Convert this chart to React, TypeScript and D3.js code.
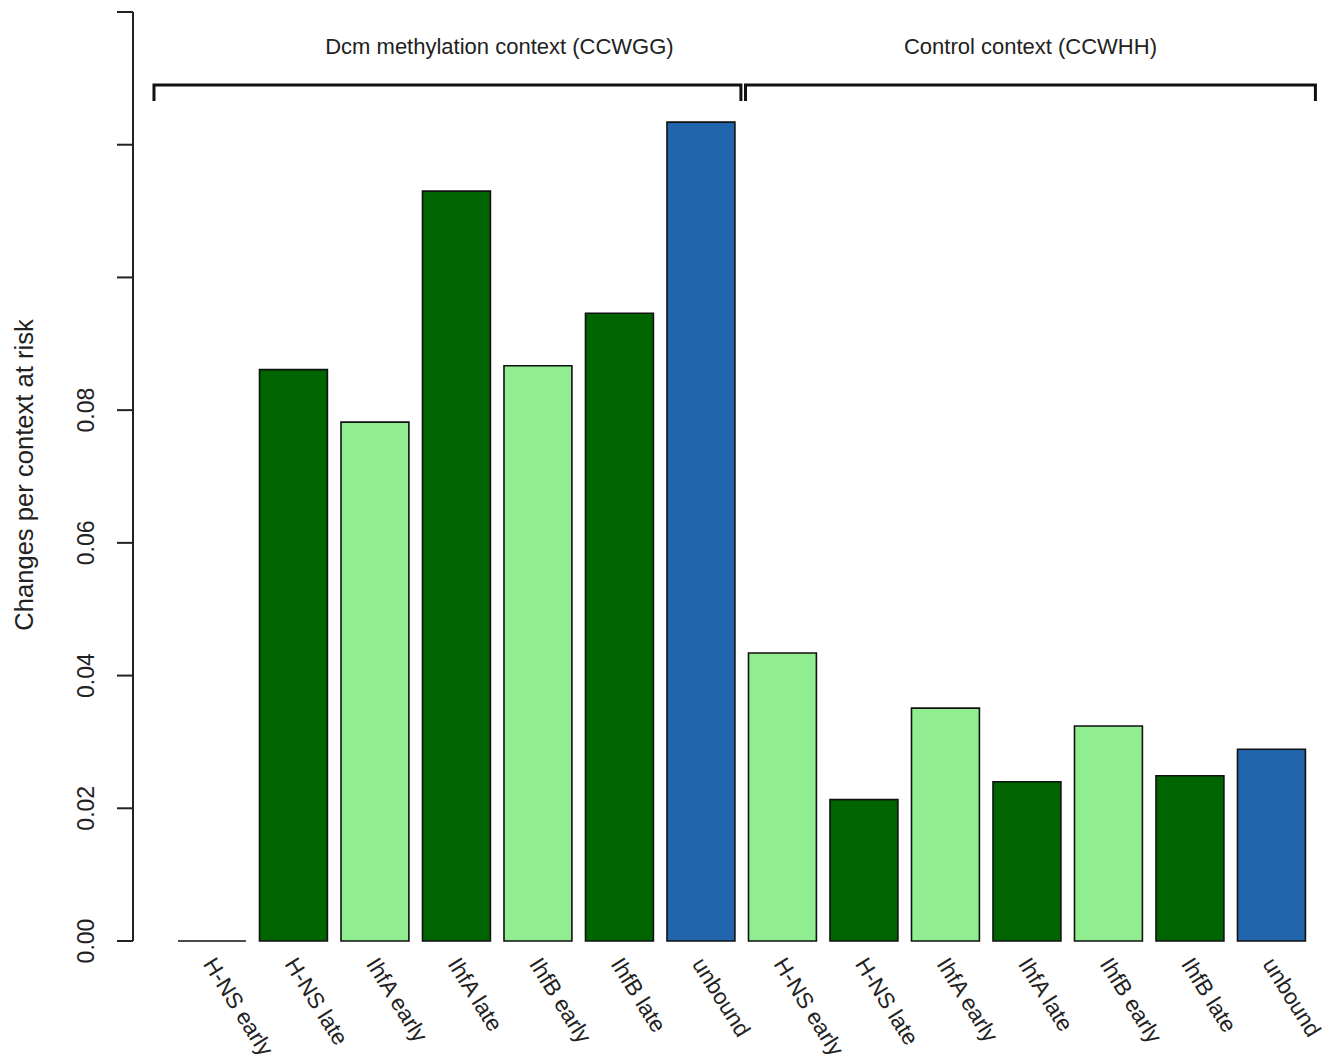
import React from "react";
import * as d3 from "d3";

const categories = ["H-NS early", "H-NS late", "IhfA early", "IhfA late", "IhfB early", "IhfB late", "unbound"];
const dcmValues = [0, 0.0861, 0.0782, 0.113, 0.0867, 0.0946, 0.1234];
const controlValues = [0.0434, 0.0213, 0.0351, 0.024, 0.0324, 0.0249, 0.0289];
const categoryColors = ["#90EE90", "#006400", "#90EE90", "#006400", "#90EE90", "#006400", "#2166AC"];
const groupLabels = ["Dcm methylation context (CCWGG)", "Control context (CCWHH)"];
const yTicks = [0, 0.02, 0.04, 0.06, 0.08, 0.1, 0.12, 0.14];
const yTickLabels = ["0.00", "0.02", "0.04", "0.06", "0.08", "", "", ""];
const yLabel = "Changes per context at risk";

const FONT = "'Liberation Sans', Arial, Helvetica, sans-serif";

export default function App() {
  const width = 1327;
  const height = 1055;
  const bars = [
    ...categories.map((c, i) => ({ id: "d" + i, label: c, value: dcmValues[i], color: categoryColors[i] })),
    ...categories.map((c, i) => ({ id: "c" + i, label: c, value: controlValues[i], color: categoryColors[i] })),
  ];
  const x = d3
    .scaleBand<string>()
    .domain(bars.map((b) => b.id))
    .range([171.2, 1312.2])
    .paddingInner(1 / 6)
    .paddingOuter(1 / 12);
  const y = d3.scaleLinear().domain([0, 0.14]).range([941, 12]);
  const bw = x.bandwidth();
  const axisX = 133;

  const barPath = (b: { id: string; value: number }) => {
    const x0 = x(b.id)!;
    const y0 = y(0);
    const y1 = y(b.value);
    const p = d3.path();
    p.moveTo(x0, y0);
    p.lineTo(x0, y1);
    p.lineTo(x0 + bw, y1);
    p.lineTo(x0 + bw, y0);
    p.closePath();
    return p.toString();
  };

  const bracketY = 85;
  const bracketDrop = 16;
  const brackets = [
    { x0: x("d0")! - 24, x1: x("d6")! + bw + 6, label: groupLabels[0], dx: 52 },
    { x0: x("c0")! - 3, x1: x("c6")! + bw + 10, label: groupLabels[1], dx: 0 },
  ];

  return (
    <svg width={width} height={height} style={{ position: "absolute", left: 0, top: 0, background: "#fff" }}>
      {/* y axis */}
      <line x1={axisX} x2={axisX} y1={y(0.14)} y2={y(0)} stroke="#222" strokeWidth={2} />
      {yTicks.map((t, i) => (
        <g key={i}>
          <line x1={axisX - 16} x2={axisX} y1={y(t)} y2={y(t)} stroke="#222" strokeWidth={2} />
          {yTickLabels[i] && (
            <text
              transform={`translate(${86},${y(t)}) rotate(-90)`}
              textAnchor="middle"
              dominantBaseline="central"
              fontFamily={FONT}
              fontSize={23}
              fill="#222"
            >
              {yTickLabels[i]}
            </text>
          )}
        </g>
      ))}
      <text
        transform={`translate(${24},${475}) rotate(-90)`}
        textAnchor="middle"
        dominantBaseline="central"
        fontFamily={FONT}
        fontSize={25.6}
        fill="#222"
      >
        {yLabel}
      </text>

      {/* bars */}
      {bars.map((b) => (
        <path key={b.id} d={barPath(b)} fill={b.color} stroke="#111" strokeWidth={1.6} />
      ))}

      {/* x labels */}
      {bars.map((b) => (
        <text
          key={"l" + b.id}
          transform={`translate(${x(b.id)! + bw / 2 - 3},${960}) rotate(58)`}
          textAnchor="start"
          dominantBaseline="central"
          fontFamily={FONT}
          fontSize={22.6}
          fill="#222"
        >
          {b.label}
        </text>
      ))}

      {/* brackets */}
      {brackets.map((br, i) => (
        <g key={"b" + i}>
          <path
            d={`M${br.x0},${bracketY + bracketDrop} V${bracketY} H${br.x1} V${bracketY + bracketDrop}`}
            fill="none"
            stroke="#111"
            strokeWidth={3}
          />
          <text
            x={(br.x0 + br.x1) / 2 + br.dx}
            y={46}
            textAnchor="middle"
            dominantBaseline="central"
            fontFamily={FONT}
            fontSize={22}
            fill="#222"
          >
            {br.label}
          </text>
        </g>
      ))}
    </svg>
  );
}
